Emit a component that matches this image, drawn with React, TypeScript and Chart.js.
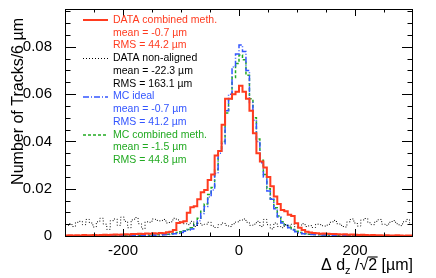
import React, { useEffect, useRef } from 'react';
import { Chart, registerables } from 'chart.js';

Chart.register(...registerables);

// ---------------- data ----------------
const X_MIN = -300;
const X_MAX = 300;
const BIN_WIDTH = 6; // µm
const Y_MIN = 0;
const Y_MAX = 0.096;
const X_MAJOR_TICKS = [-200, 0, 200];
const Y_MAJOR_TICKS = [0, 0.02, 0.04, 0.06, 0.08];
const X_MINOR_STEP = 50;
const Y_MINOR_STEP = 0.005;

// 100 bins of 6 µm from -300 to 300
const dataCombined = [
  0.0002, 0.0003, 0.0002, 0.0003, 0.0002, 0.0004, 0.0003, 0.0003, 0.0004, 0.0003,
  0.0004, 0.0005, 0.0004, 0.0005, 0.0006, 0.0005, 0.0006, 0.0007, 0.0006, 0.0008,
  0.0008, 0.0009, 0.0008, 0.0011, 0.0010, 0.0012, 0.0011, 0.0013, 0.0012, 0.0016,
  0.0018, 0.0025, 0.0055, 0.0058, 0.0062, 0.0098, 0.0122, 0.0126, 0.0155, 0.0185,
  0.0195, 0.0237, 0.0260, 0.0340, 0.0360, 0.0470, 0.0580, 0.0580, 0.0600, 0.0610,
  0.0635, 0.0610, 0.0580, 0.0530, 0.0435, 0.0350, 0.0315, 0.0290, 0.0250, 0.0210,
  0.0167, 0.0135, 0.0110, 0.0105, 0.0090, 0.0085, 0.0054, 0.0035, 0.0025, 0.0018,
  0.0015, 0.0013, 0.0012, 0.0010, 0.0011, 0.0009, 0.0008, 0.0008, 0.0007, 0.0006,
  0.0007, 0.0005, 0.0006, 0.0005, 0.0004, 0.0005, 0.0004, 0.0003, 0.0004, 0.0003,
  0.0003, 0.0002, 0.0003, 0.0002, 0.0002, 0.0003, 0.0002, 0.0001, 0.0002, 0.0002,
];

const dataNonAligned = [
  0.0045, 0.0052, 0.0040, 0.0058, 0.0062, 0.0048, 0.0070, 0.0055, 0.0038, 0.0060,
  0.0075, 0.0050, 0.0028, 0.0065, 0.0072, 0.0045, 0.0080, 0.0062, 0.0035, 0.0068,
  0.0078, 0.0052, 0.0030, 0.0060, 0.0058, 0.0072, 0.0066, 0.0064, 0.0070, 0.0055,
  0.0060, 0.0075, 0.0068, 0.0058, 0.0052, 0.0048, 0.0062, 0.0040, 0.0054, 0.0046,
  0.0050, 0.0058, 0.0042, 0.0036, 0.0048, 0.0055, 0.0045, 0.0040, 0.0052, 0.0060,
  0.0066, 0.0072, 0.0058, 0.0045, 0.0050, 0.0062, 0.0040, 0.0070, 0.0048, 0.0030,
  0.0055, 0.0040, 0.0035, 0.0048, 0.0042, 0.0050, 0.0038, 0.0046, 0.0052, 0.0040,
  0.0044, 0.0036, 0.0050, 0.0048, 0.0042, 0.0046, 0.0058, 0.0066, 0.0052, 0.0045,
  0.0038, 0.0060, 0.0072, 0.0055, 0.0042, 0.0068, 0.0074, 0.0056, 0.0048, 0.0062,
  0.0070, 0.0050, 0.0045, 0.0058, 0.0065, 0.0052, 0.0044, 0.0060, 0.0070, 0.0055,
];

const mcIdeal = [
  0.0001, 0.0001, 0.0001, 0.0001, 0.0001, 0.0001, 0.0001, 0.0001, 0.0001, 0.0001,
  0.0001, 0.0001, 0.0001, 0.0002, 0.0001, 0.0002, 0.0001, 0.0002, 0.0002, 0.0002,
  0.0002, 0.0003, 0.0002, 0.0003, 0.0003, 0.0003, 0.0004, 0.0004, 0.0005, 0.0006,
  0.0008, 0.0010, 0.0012, 0.0015, 0.0020, 0.0025, 0.0030, 0.0045, 0.0065, 0.0095,
  0.0125, 0.0165, 0.0195, 0.0265, 0.0350, 0.0390, 0.0530, 0.0600, 0.0715, 0.0770,
  0.0808, 0.0780, 0.0700, 0.0565, 0.0490, 0.0400, 0.0310, 0.0250, 0.0190, 0.0155,
  0.0115, 0.0080, 0.0055, 0.0045, 0.0035, 0.0025, 0.0018, 0.0014, 0.0010, 0.0008,
  0.0006, 0.0006, 0.0005, 0.0004, 0.0004, 0.0003, 0.0003, 0.0003, 0.0002, 0.0002,
  0.0002, 0.0002, 0.0001, 0.0002, 0.0001, 0.0001, 0.0001, 0.0001, 0.0001, 0.0001,
  0.0001, 0.0001, 0.0001, 0.0001, 0.0001, 0.0001, 0.0001, 0.0001, 0.0001, 0.0001,
];

const mcCombined = [
  0.0001, 0.0001, 0.0001, 0.0001, 0.0001, 0.0001, 0.0001, 0.0002, 0.0001, 0.0001,
  0.0001, 0.0002, 0.0001, 0.0002, 0.0002, 0.0002, 0.0002, 0.0002, 0.0003, 0.0002,
  0.0003, 0.0003, 0.0003, 0.0004, 0.0003, 0.0004, 0.0005, 0.0005, 0.0006, 0.0007,
  0.0009, 0.0012, 0.0015, 0.0018, 0.0022, 0.0028, 0.0035, 0.0052, 0.0075, 0.0105,
  0.0135, 0.0175, 0.0205, 0.0280, 0.0360, 0.0400, 0.0520, 0.0580, 0.0670, 0.0730,
  0.0765, 0.0745, 0.0680, 0.0580, 0.0500, 0.0410, 0.0320, 0.0260, 0.0200, 0.0158,
  0.0120, 0.0085, 0.0060, 0.0048, 0.0036, 0.0027, 0.0020, 0.0015, 0.0011, 0.0009,
  0.0007, 0.0006, 0.0006, 0.0005, 0.0004, 0.0004, 0.0003, 0.0003, 0.0003, 0.0002,
  0.0002, 0.0002, 0.0002, 0.0001, 0.0002, 0.0001, 0.0001, 0.0001, 0.0001, 0.0001,
  0.0001, 0.0001, 0.0001, 0.0001, 0.0001, 0.0001, 0.0001, 0.0001, 0.0001, 0.0001,
];

const seriesNames = ['DATA combined meth.', 'DATA non-aligned', 'MC ideal', 'MC combined meth.'];
const seriesMeans = ['-0.7', '-22.3', '-0.7', '-1.5'];
const seriesRms = ['44.2', '163.1', '41.2', '44.8'];

const Y_TITLE = 'Number of Tracks/6 \u00b5m';

// ---------------- styles ----------------
const FONT = '"Liberation Sans", Arial, Helvetica, sans-serif';
const COLORS = ['#ff3b1f', '#000000', '#3355ff', '#22aa22'];
const DASHES: number[][] = [[], [1, 2], [6, 2, 1, 2], [3, 2]];
const WIDTHS = [2, 1, 1.5, 1.5];

function toPoints(values: number[]) {
  const pts = values.map((v, i) => ({ x: X_MIN + i * BIN_WIDTH, y: v }));
  pts.push({ x: X_MIN + values.length * BIN_WIDTH, y: values[values.length - 1] });
  return pts;
}

const rootStylePlugin = {
  id: 'rootStyle',
  afterDraw(chart: any) {
    const ctx = chart.ctx as CanvasRenderingContext2D;
    const { left, right, top, bottom } = chart.chartArea;
    const xs = chart.scales.x;
    const ys = chart.scales.y;
    ctx.save();
    ctx.strokeStyle = '#000';
    ctx.lineWidth = 1;
    ctx.setLineDash([]);
    // frame
    ctx.strokeRect(left + 0.5, top + 0.5, right - left - 1, bottom - top);
    // x ticks (bottom + top)
    ctx.beginPath();
    const xMajLen = 7, xMinLen = 3.5, yMajLen = 11, yMinLen = 5.5;
    for (let v = X_MIN; v <= X_MAX + 1e-9; v += X_MINOR_STEP) {
      if (v === X_MIN || v === X_MAX) continue;
      const isMajor = X_MAJOR_TICKS.includes(v);
      const len = isMajor ? xMajLen : xMinLen;
      const px = Math.round(xs.getPixelForValue(v)) + 0.5;
      ctx.moveTo(px, bottom);
      ctx.lineTo(px, bottom - len);
      ctx.moveTo(px, top);
      ctx.lineTo(px, top + len);
    }
    // y ticks (left + right)
    for (let k = 1; k * Y_MINOR_STEP <= Y_MAX + 1e-9; k++) {
      const v = +(k * Y_MINOR_STEP).toFixed(4);
      const isMajor = Y_MAJOR_TICKS.some((t) => Math.abs(t - v) < 1e-9);
      const len = isMajor ? yMajLen : yMinLen;
      const py = Math.round(ys.getPixelForValue(v)) + 0.5;
      ctx.moveTo(left, py);
      ctx.lineTo(left + len, py);
      ctx.moveTo(right, py);
      ctx.lineTo(right - len, py);
    }
    ctx.stroke();

    // legend
    const lx0 = 83, lx1 = 108, tx = 113, y0 = 20, dy = 12.75;
    ctx.font = `10.5px ${FONT}`;
    ctx.textBaseline = 'middle';
    ctx.textAlign = 'left';
    seriesNames.forEach((name, i) => {
      const y = y0 + i * 3 * dy;
      ctx.strokeStyle = COLORS[i];
      ctx.lineWidth = WIDTHS[i];
      ctx.setLineDash(DASHES[i]);
      ctx.beginPath();
      const ly = Math.round(y) + (WIDTHS[i] % 2 === 1 ? 0.5 : 0);
      ctx.moveTo(lx0, ly);
      ctx.lineTo(lx1, ly);
      ctx.stroke();
      ctx.setLineDash([]);
      ctx.fillStyle = COLORS[i];
      ctx.fillText(name, tx, y);
      ctx.fillText(`mean = ${seriesMeans[i]} \u00b5m`, tx, y + dy);
      ctx.fillText(`RMS = ${seriesRms[i]} \u00b5m`, tx, y + 2 * dy);
    });

    // y title
    ctx.fillStyle = '#000';
    ctx.strokeStyle = '#000';
    ctx.font = `16px ${FONT}`;
    ctx.save();
    ctx.translate(23, 18);
    ctx.rotate(-Math.PI / 2);
    ctx.textAlign = 'right';
    ctx.textBaseline = 'alphabetic';
    ctx.fillText(Y_TITLE, 0, 0);
    ctx.restore();

    // x title: Δ d_z /√2 [µm], right aligned at frame right
    const base = 270;
    const big = `16px ${FONT}`;
    const small = `11px ${FONT}`;
    const parts: { t: string; f: string; dy: number; over?: boolean }[] = [
      { t: '\u0394 d', f: big, dy: 0 },
      { t: 'z', f: small, dy: 3.5 },
      { t: ' /', f: big, dy: 0 },
      { t: '\u221a', f: big, dy: 0 },
      { t: '2', f: big, dy: 0, over: true },
      { t: ' [\u00b5m]', f: big, dy: 0 },
    ];
    let total = 0;
    const widths = parts.map((p) => {
      ctx.font = p.f;
      const w = ctx.measureText(p.t).width;
      total += w;
      return w;
    });
    let x = right - total;
    ctx.textAlign = 'left';
    ctx.textBaseline = 'alphabetic';
    parts.forEach((p, i) => {
      ctx.font = p.f;
      ctx.fillText(p.t, x, base + p.dy);
      if (p.over) {
        ctx.beginPath();
        ctx.lineWidth = 1.1;
        ctx.moveTo(x - 0.5, base - 13);
        ctx.lineTo(x + widths[i] + 0.5, base - 13);
        ctx.stroke();
      }
      x += widths[i];
    });
    ctx.restore();
  },
};

export default function App() {
  const canvasRef = useRef<HTMLCanvasElement | null>(null);

  useEffect(() => {
    const canvas = canvasRef.current;
    if (!canvas) return;
    const allSeries = [dataCombined, dataNonAligned, mcIdeal, mcCombined];
    const chart = new Chart(canvas, {
      type: 'line',
      data: {
        datasets: allSeries.map((vals, i) => ({
          label: seriesNames[i],
          data: toPoints(vals),
          borderColor: COLORS[i],
          borderWidth: WIDTHS[i],
          borderDash: DASHES[i],
          borderCapStyle: 'butt',
          borderJoinStyle: 'miter',
          stepped: 'before',
          fill: false,
          pointRadius: 0,
          tension: 0,
        })),
      },
      options: {
        animation: false,
        responsive: false,
        maintainAspectRatio: false,
        devicePixelRatio: 1,
        layout: { padding: { top: 9, right: 23, left: 0, bottom: 0 } },
        plugins: { legend: { display: false }, tooltip: { enabled: false } },
        scales: {
          x: {
            type: 'linear',
            min: X_MIN,
            max: X_MAX,
            grid: { display: false },
            border: { display: false },
            afterBuildTicks: (scale: any) => {
              scale.ticks = X_MAJOR_TICKS.map((v) => ({ value: v }));
            },
            afterFit: (scale: any) => {
              scale.height = 42;
              scale.paddingLeft = 0;
              scale.paddingRight = 0;
            },
            ticks: {
              color: '#000',
              padding: -2,
              maxRotation: 0,
              autoSkip: false,
              font: { family: FONT, size: 15 },
              callback: (v: any) => String(v),
            },
          },
          y: {
            type: 'linear',
            min: Y_MIN,
            max: Y_MAX,
            grid: { display: false },
            border: { display: false },
            afterBuildTicks: (scale: any) => {
              scale.ticks = Y_MAJOR_TICKS.map((v) => ({ value: v }));
            },
            afterFit: (scale: any) => {
              scale.width = 65;
              scale.paddingTop = 0;
              scale.paddingBottom = 0;
            },
            ticks: {
              color: '#000',
              padding: 5,
              autoSkip: false,
              font: { family: FONT, size: 15 },
              callback: (v: any) => (Number(v) === 0 ? '0' : Number(v).toFixed(2)),
            },
          },
        },
      },
      plugins: [rootStylePlugin],
    } as any);
    return () => chart.destroy();
  }, []);

  return (
    <div style={{ position: 'fixed', left: 0, top: 0, width: 436, height: 278, background: '#fff' }}>
      <canvas ref={canvasRef} width={436} height={278} style={{ display: 'block', width: 436, height: 278 }} />
    </div>
  );
}
